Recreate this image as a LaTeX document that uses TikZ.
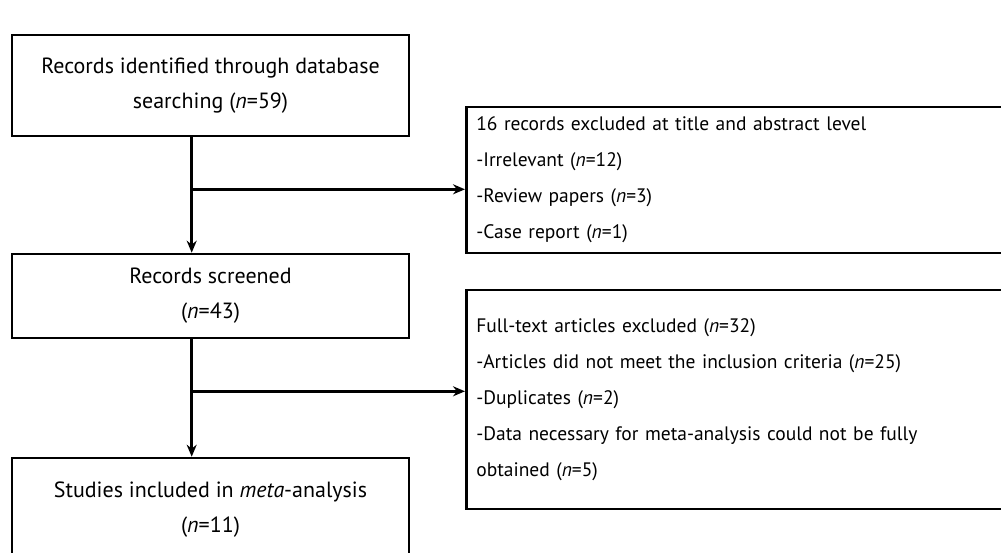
\documentclass[tikz,border=0pt]{standalone}
\usepackage{fontspec}
\setmainfont{PT Sans}
\usetikzlibrary{arrows.meta}

\tikzset{
  box/.style={draw, line width=2.6pt, inner sep=0pt, align=center,
    minimum width=397pt, font=\fontsize{22}{35}\selectfont},
  exbox/.style={draw, line width=2.6pt, inner xsep=10pt, inner ysep=0pt,
    align=left, text width=525pt, minimum width=545pt,
    font=\fontsize{19.5}{36}\selectfont},
  arr/.style={line width=2.6pt, -{Stealth[length=12pt,width=10pt]}}
}

\begin{document}
\begin{tikzpicture}[x=1pt,y=1pt]
  % Page and clip
  \useasboundingbox (0,0) rectangle (1001,552);
  \fill[white] (0,0) rectangle (1001,552);
  \clip (0,0) rectangle (1001,552);

  % Main boxes
  \node[box, minimum height=101pt] (ident) at (210.5,466.5)
    {Records identified through database\\searching (\textit{n}=59)};
  \node[box, minimum height=84pt] (screen) at (210.5,256)
    {Records screened\\(\textit{n}=43)};
  \node[box, minimum height=104pt] (incl) at (210.5,42)
    {Studies included in \textit{meta}-analysis\\(\textit{n}=11)};

  % Exclusion boxes
  \node[exbox, anchor=west, minimum height=146pt] (excl1) at (465,372)
    {16 records excluded at title and abstract level\\
     -Irrelevant (\textit{n}=12)\\
     -Review papers (\textit{n}=3)\\
     -Case report (\textit{n}=1)};
  \node[exbox, anchor=west, minimum height=219pt] (excl2) at (465,152.5)
    {Full-text articles excluded (\textit{n}=32)\\
     -Articles did not meet the inclusion criteria (\textit{n}=25)\\
     -Duplicates (\textit{n}=2)\\
     -Data necessary for meta-analysis could not be fully\\
     obtained (\textit{n}=5)};

  % Vertical flow
  \draw[arr] ([xshift=181pt]ident.south west) -- ([xshift=181pt]screen.north west);
  \draw[arr] ([xshift=181pt]screen.south west) -- ([xshift=181pt]incl.north west);

  % Side branches
  \coordinate (b1) at ([xshift=181pt,yshift=-52pt]ident.south west);
  \coordinate (b2) at ([xshift=181pt,yshift=-52pt]screen.south west);
  \draw[arr] (b1) -- (b1 -| excl1.west);
  \draw[arr] (b2) -- (b2 -| excl2.west);

\end{tikzpicture}
\end{document}
